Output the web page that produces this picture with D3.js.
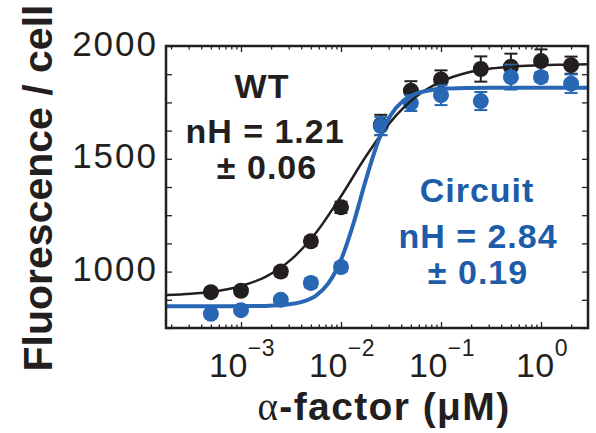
<!DOCTYPE html>
<html>
<head>
<meta charset="utf-8">
<script src="https://cdn.jsdelivr.net/npm/d3@7"></script>
<style>
  body { margin: 0; background: #fff; }
  text { font-family: "Liberation Sans", Arial, Helvetica, sans-serif; fill: #231f20; }
</style>
</head>
<body>
<svg id="chart" width="596" height="433"></svg>
<script>
// alpha-factor doses (uM) and measured means / errors
var doses = [5e-4, 1e-3, 2.5e-3, 5e-3, 1e-2, 2.5e-2, 5e-2, 0.1, 0.25, 0.5, 1, 2];
var wtMean = [909, 915, 1000, 1134, 1285, 1650, 1802, 1852, 1898, 1908, 1933, 1915];
var wtErr = [15, 15, 20, 20, 25, 45, 42, 40, 56, 58, 52, 38];
var circuitMean = [813, 829, 875, 950, 1020, 1645, 1747, 1782, 1756, 1862, 1862, 1833];
var circuitErr = [15, 15, 15, 20, 20, 40, 35, 44, 40, 55, 20, 41];

// fitted curves (log10 dose, value)
var wtFitLog = [-3.75, -3.5, -3.25, -3.0, -2.75, -2.5, -2.25, -2.0, -1.75, -1.5, -1.25, -1.0, -0.75, -0.5, -0.25, 0, 0.25, 0.47];
var wtFitVal = [896, 902, 913, 936, 978, 1053, 1172, 1334, 1511, 1666, 1775, 1842, 1880, 1900, 1910, 1915, 1917, 1919];
var circuitFitLog = [-3.75, -3.25, -2.75, -2.5, -2.375, -2.25, -2.125, -2.0, -1.875, -1.75, -1.625, -1.5, -1.375, -1.25, -1.125, -1.0, -0.75, -0.5, 0, 0.47];
var circuitFitVal = [846, 846, 848, 856, 868, 894, 949, 1052, 1214, 1409, 1581, 1695, 1758, 1789, 1803, 1810, 1814, 1815, 1815, 1815];

var xMajor = [1e-3, 1e-2, 1e-1, 1];
var xExponents = ["\u22123", "\u22122", "\u22121", "0"];
var yTicks = [750, 875, 1000, 1125, 1250, 1375, 1500, 1625, 1750, 1875, 2000];
var yLabels = [1000, 1500, 2000];

var black = "#231f20", blue = "#2767b4", blueText = "#1d5ca9";

var margin = {top: 46, right: 8, bottom: 105, left: 166},
  W = 596, H = 433,
  width = W - margin.left - margin.right,
  height = H - margin.top - margin.bottom;

var x = d3.scaleLog()
  .domain([Math.pow(10, -3.75), Math.pow(10, 0.47)])
  .range([0, width]);

var y = d3.scaleLinear()
  .domain([750, 2000])
  .range([height, 0]);

var svg = d3.select("#chart");
var g = svg.append("g")
  .attr("transform", "translate(" + margin.left + "," + margin.top + ")");

// minor ticks 2..9 for each decade inside the domain
var xMinor = [];
for (let e = -4; e <= 0; e++) {
  for (let m = 2; m <= 9; m++) {
    var v = m * Math.pow(10, e);
    if (v > x.domain()[0] && v < x.domain()[1]) xMinor.push(v);
  }
}

function styleAxis(sel) {
  sel.select(".domain").remove();
  sel.selectAll("line").attr("stroke", black).attr("stroke-width", 1.3);
}

g.append("g").attr("transform", "translate(0," + height + ")")
  .call(d3.axisBottom(x).tickValues(xMajor).tickSize(-6).tickFormat(""))
  .call(styleAxis);
g.append("g").attr("transform", "translate(0," + height + ")")
  .call(d3.axisBottom(x).tickValues(xMinor).tickSize(-3.5).tickFormat(""))
  .call(styleAxis);
g.append("g")
  .call(d3.axisTop(x).tickValues(xMajor).tickSize(-6).tickFormat(""))
  .call(styleAxis);
g.append("g")
  .call(d3.axisTop(x).tickValues(xMinor).tickSize(-3.5).tickFormat(""))
  .call(styleAxis);
g.append("g")
  .call(d3.axisLeft(y).tickValues(yTicks).tickSize(-6).tickFormat(""))
  .call(styleAxis);
g.append("g").attr("transform", "translate(" + width + ",0)")
  .call(d3.axisRight(y).tickValues(yTicks).tickSize(-6).tickFormat(""))
  .call(styleAxis);

// y tick labels
g.selectAll(".ylab").data(yLabels).enter().append("text")
  .attr("class", "ylab")
  .attr("x", -8)
  .attr("y", (d) => y(d) - 3)
  .attr("dy", "0.36em")
  .attr("text-anchor", "end")
  .attr("font-size", 35)
  .attr("letter-spacing", 2)
  .text((d) => d);

// x tick labels 10^n
var xl = g.selectAll(".xlab").data(xMajor).enter().append("text")
  .attr("class", "xlab")
  .attr("x", (d) => x(d) + 1)
  .attr("y", height + 49)
  .attr("text-anchor", "middle")
  .attr("font-size", 34)
  .attr("letter-spacing", 0.5);
xl.append("tspan").text("10");
xl.append("tspan")
  .attr("dy", -21)
  .attr("font-size", 23)
  .text((d, i) => xExponents[i]);

// error bars
function errorBars(mean, err, color) {
  var eb = g.append("g");
  doses.forEach((d, i) => {
    var cx = x(d), y0 = y(mean[i] - err[i]), y1 = y(mean[i] + err[i]);
    eb.append("line").attr("x1", cx).attr("x2", cx).attr("y1", y0).attr("y2", y1)
      .attr("stroke", color).attr("stroke-width", 2);
    [y0, y1].forEach((yy) => {
      eb.append("line").attr("x1", cx - 6.5).attr("x2", cx + 6.5).attr("y1", yy).attr("y2", yy)
        .attr("stroke", color).attr("stroke-width", 2);
    });
  });
}

function dots(mean, color) {
  g.append("g").selectAll("circle").data(doses).enter().append("circle")
    .attr("cx", (d) => x(d))
    .attr("cy", (d, i) => y(mean[i]))
    .attr("r", 8)
    .attr("fill", color);
}

errorBars(wtMean, wtErr, black);
dots(wtMean, black);
errorBars(circuitMean, circuitErr, blue);
dots(circuitMean, blue);

// fit curves
svg.append("defs").append("clipPath").attr("id", "plot")
  .append("rect").attr("width", width).attr("height", height);

var line = d3.line()
  .x((d) => x(Math.pow(10, d[0])))
  .y((d) => y(d[1]))
  .curve(d3.curveMonotoneX);

g.append("path")
  .attr("clip-path", "url(#plot)")
  .attr("d", line(d3.zip(wtFitLog, wtFitVal)))
  .attr("fill", "none").attr("stroke", black).attr("stroke-width", 2.5);
g.append("path")
  .attr("clip-path", "url(#plot)")
  .attr("d", line(d3.zip(circuitFitLog, circuitFitVal)))
  .attr("fill", "none").attr("stroke", blue).attr("stroke-width", 4);

// frame
g.append("rect")
  .attr("width", width).attr("height", height)
  .attr("fill", "none").attr("stroke", black).attr("stroke-width", 2.5);

// annotations
function note(txt, cx, by, color) {
  svg.append("text")
    .attr("x", cx).attr("y", by)
    .attr("text-anchor", "middle")
    .attr("font-size", 34)
    .attr("letter-spacing", 1)
    .attr("font-weight", "bold")
    .style("fill", color)
    .text(txt);
}
note("WT", 262, 98, black);
note("nH = 1.21", 265, 143, black);
note("\u00b1 0.06", 267, 178.5, black);
note("Circuit", 477, 202, blueText);
note("nH = 2.84", 478, 248, blueText);
note("\u00b1 0.19", 478, 284, blueText);

// axis titles
var xt = svg.append("text")
  .attr("x", 384).attr("y", 420)
  .attr("text-anchor", "middle")
  .attr("font-size", 39)
  .attr("letter-spacing", 1.4);
xt.append("tspan")
  .style("font-family", "'Liberation Serif', 'DejaVu Serif', serif")
  .text("\u03b1");
xt.append("tspan")
  .attr("font-weight", "bold")
  .text("-factor (\u03bcM)");

svg.append("text")
  .attr("transform", "translate(52,188) rotate(-90)")
  .attr("text-anchor", "middle")
  .attr("font-size", 41)
  .attr("font-weight", "bold")
  .text("Fluorescence / cell");
</script>
</body>
</html>
